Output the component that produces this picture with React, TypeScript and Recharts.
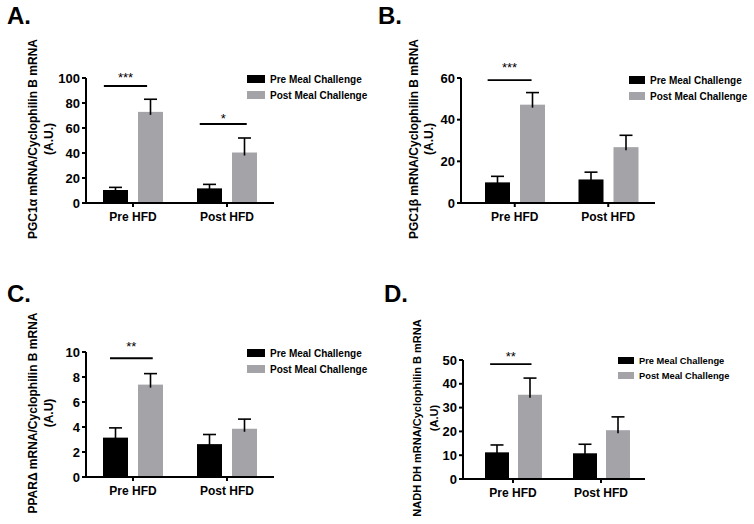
import React from 'react';
import { BarChart, Bar, XAxis, YAxis, Legend, ReferenceLine } from 'recharts';

const FONT = '"Liberation Sans", Arial, Helvetica, sans-serif';
const GRAY = '#a3a3a8';

const categories = ['Pre HFD', 'Post HFD'];
// position of each category on the hidden numeric axis used for significance bars
const categoryPos = [0.5, 1.5];
const seriesNames = ['Pre Meal Challenge', 'Post Meal Challenge'];

// A. PGC1α
const pgc1aPre = [10.4, 11.7];
const pgc1aPreErr = [2.1, 3.2];
const pgc1aPost = [72.9, 40.4];
const pgc1aPostErr = [10.1, 11.6];
const pgc1aTicks = [0, 20, 40, 60, 80, 100];
// significance bars: [from, to] in category units, height, stars
const pgc1aSig = [
  { from: 0.19, to: 0.65, y: 93.6, stars: '***' },
  { from: 1.21, to: 1.71, y: 63.2, stars: '*' },
];

// B. PGC1β
const pgc1bPre = [9.9, 11.3];
const pgc1bPreErr = [2.9, 3.5];
const pgc1bPost = [47.2, 26.8];
const pgc1bPostErr = [5.8, 5.7];
const pgc1bTicks = [0, 20, 40, 60];
const pgc1bSig = [{ from: 0.21, to: 0.68, y: 59, stars: '***' }];

// C. PPARΔ
const pparPre = [3.15, 2.63];
const pparPreErr = [0.78, 0.77];
const pparPost = [7.39, 3.86];
const pparPostErr = [0.88, 0.77];
const pparTicks = [0, 2, 4, 6, 8, 10];
const pparSig = [{ from: 0.255, to: 0.71, y: 9.5, stars: '**' }];

// D. NADH DH
const nadhPre = [11.2, 10.8];
const nadhPreErr = [3.1, 3.8];
const nadhPost = [35.4, 20.5];
const nadhPostErr = [7.0, 5.6];
const nadhTicks = [0, 10, 20, 30, 40, 50];
const nadhSig = [{ from: 0.24, to: 0.71, y: 48.3, stars: '**' }];

const buildRows = (pre: number[], preErr: number[], post: number[], postErr: number[]) =>
  categories.map((cat, i) => ({
    cat, pos: categoryPos[i], pre: pre[i], preErr: preErr[i], post: post[i], postErr: postErr[i],
  }));

const panels = [
  {
    letter: 'A.', left: 0, top: 0, titleX: 7, titleTop: 4,
    label: ['PGC1\u03b1 mRNA/Cyclophilin B mRNA', '(A.U.)'], labelX: [33, 49], labelSize: 12,
    data: buildRows(pgc1aPre, pgc1aPreErr, pgc1aPost, pgc1aPostErr), ticks: pgc1aTicks, sig: pgc1aSig,
    sigOffset: [4.5, 1],
    margin: { top: 78, right: 103, bottom: 29, left: 0 }, yWidth: 86, padLeft: 0, barSize: 25, barGap: 10,
    legend: { left: 247, top: 71, row: 16, boxW: 18, boxH: 8, font: 10 },
  },
  {
    letter: 'B.', left: 377, top: 0, titleX: 1, titleTop: 4,
    label: ['PGC1\u03b2 mRNA/Cyclophilin B mRNA', '(A.U.)'], labelX: [37, 52], labelSize: 12,
    data: buildRows(pgc1bPre, pgc1bPreErr, pgc1bPost, pgc1bPostErr), ticks: pgc1bTicks, sig: pgc1bSig,
    sigOffset: [8],
    margin: { top: 78, right: 99, bottom: 29, left: 0 }, yWidth: 84, padLeft: 7, barSize: 25, barGap: 10,
    legend: { left: 252, top: 72, row: 16, boxW: 16, boxH: 8, font: 10 },
  },
  {
    letter: 'C.', left: 0, top: 262, titleX: 7, titleTop: 20,
    label: ['PPAR\u0394 mRNA/Cyclophilin B mRNA', '(A.U)'], labelX: [33, 49], labelSize: 12,
    data: buildRows(pparPre, pparPreErr, pparPost, pparPostErr), ticks: pparTicks, sig: pparSig,
    sigOffset: [7],
    margin: { top: 90, right: 103, bottom: 17, left: 0 }, yWidth: 86, padLeft: 0, barSize: 25, barGap: 10,
    legend: { left: 247, top: 83, row: 16, boxW: 18, boxH: 8, font: 10 },
  },
  {
    letter: 'D.', left: 377, top: 262, titleX: 7, titleTop: 20,
    label: ['NADH DH mRNA/Cyclophilin B mRNA', '(A.U)'], labelX: [40, 57], labelSize: 11,
    data: buildRows(nadhPre, nadhPreErr, nadhPost, nadhPostErr), ticks: nadhTicks, sig: nadhSig,
    sigOffset: [3.5],
    margin: { top: 98, right: 109, bottom: 15, left: 0 }, yWidth: 86, padLeft: 6, barSize: 24, barGap: 9,
    legend: { left: 241, top: 91, row: 15, boxW: 16, boxH: 7, font: 9.3 },
  },
];

// bar with an upward-only error bar, scaled from the bar's own geometry
const errBarShape = (valKey: string, errKey: string) => (p: any) => {
  const v = p.payload[valKey];
  const e = p.payload[errKey];
  const pxPerUnit = v ? p.height / v : 0;
  const cx = p.x + p.width / 2;
  const top = p.y - e * pxPerUnit;
  return (
    <g>
      <rect x={p.x} y={p.y} width={p.width} height={p.height} fill={p.fill} />
      <line x1={cx} x2={cx} y1={p.y + 3} y2={top} stroke="#000" strokeWidth={1.6} />
      <line x1={cx - 6.5} x2={cx + 6.5} y1={top} y2={top} stroke="#000" strokeWidth={1.6} />
    </g>
  );
};

const axisStyle = { stroke: '#000', strokeWidth: 2 };

function Panel({ cfg }: { cfg: (typeof panels)[number] }) {
  const lg = cfg.legend;
  const yMax = cfg.ticks[cfg.ticks.length - 1];

  const renderLegend = (props: any) => {
    const items = [...(props.payload || [])].sort(
      (a: any, b: any) => seriesNames.indexOf(a.value) - seriesNames.indexOf(b.value),
    );
    return (
      <div style={{ fontFamily: FONT }}>
        {items.map((entry: any) => (
          <div key={entry.value} style={{ display: 'flex', alignItems: 'center', height: lg.row }}>
            <span style={{ display: 'inline-block', width: lg.boxW, height: lg.boxH, background: entry.color }} />
            <span style={{ marginLeft: 5, fontSize: lg.font, fontWeight: 'bold', color: '#000', whiteSpace: 'nowrap' }}>
              {entry.value}
            </span>
          </div>
        ))}
      </div>
    );
  };

  const renderYLabel = (props: any) => {
    const vb = props.viewBox || {};
    const cy = (vb.y ?? 0) + (vb.height ?? 0) / 2 - 1.5;
    return (
      <g>
        {cfg.label.map((line, i) => (
          <text
            key={i}
            x={cfg.labelX[i]}
            y={cy}
            transform={`rotate(-90, ${cfg.labelX[i]}, ${cy})`}
            textAnchor="middle"
            dominantBaseline="central"
            fontSize={cfg.labelSize}
            fontWeight="bold"
            fontFamily={FONT}
            fill="#000"
          >
            {line}
          </text>
        ))}
      </g>
    );
  };

  return (
    <div style={{ position: 'absolute', left: cfg.left, top: cfg.top, width: 377, height: 262 }}>
      <div
        style={{
          position: 'absolute', left: cfg.titleX, top: cfg.titleTop, fontSize: 24, lineHeight: '24px',
          fontWeight: 'bold', fontFamily: FONT, color: '#000', zIndex: 2,
        }}
      >
        {cfg.letter}
      </div>
      <BarChart
        width={377}
        height={262}
        data={cfg.data}
        margin={cfg.margin}
        barSize={cfg.barSize}
        barGap={cfg.barGap}
      >
        <XAxis
          dataKey="cat"
          interval={0}
          height={30}
          tickSize={4}
          tickMargin={5}
          padding={{ left: cfg.padLeft, right: 0 }}
          axisLine={axisStyle}
          tickLine={axisStyle}
          tick={{ fill: '#000', fontSize: 12, fontWeight: 'bold', fontFamily: FONT }}
        />
        <XAxis
          xAxisId="sig"
          dataKey="pos"
          type="number"
          domain={[0, 2]}
          allowDataOverflow
          hide
          padding={{ left: cfg.padLeft, right: 0 }}
        />
        <YAxis
          domain={[0, yMax]}
          ticks={cfg.ticks}
          interval={0}
          width={cfg.yWidth}
          tickSize={4}
          tickMargin={2}
          allowDataOverflow
          axisLine={axisStyle}
          tickLine={axisStyle}
          tick={{ fill: '#000', fontSize: 13, fontWeight: 'bold', fontFamily: FONT }}
          label={{ content: renderYLabel }}
        />
        <Legend
          layout="vertical"
          align="center"
          verticalAlign="middle"
          content={renderLegend}
          wrapperStyle={{ left: lg.left, top: lg.top, width: 'auto' }}
        />
        <Bar
          dataKey="pre"
          name={seriesNames[0]}
          fill="#000"
          shape={errBarShape('pre', 'preErr')}
          isAnimationActive={false}
        />
        <Bar
          dataKey="post"
          name={seriesNames[1]}
          fill={GRAY}
          shape={errBarShape('post', 'postErr')}
          isAnimationActive={false}
        />
        {cfg.sig.map((s, i) => (
          <ReferenceLine
            key={i}
            xAxisId="sig"
            segment={[{ x: s.from, y: s.y }, { x: s.to, y: s.y }]}
            stroke="#000"
            strokeWidth={1.8}
            ifOverflow="visible"
            label={{
              value: s.stars, position: 'top', offset: cfg.sigOffset[i],
              fill: '#000', fontSize: 13, fontFamily: FONT,
            }}
          />
        ))}
      </BarChart>
    </div>
  );
}

export default function App() {
  return (
    <div
      style={{
        position: 'absolute', left: 0, top: 0, width: 754, height: 524,
        background: '#fff', fontFamily: FONT, overflow: 'hidden',
      }}
    >
      {panels.map((p) => (
        <Panel key={p.letter} cfg={p} />
      ))}
    </div>
  );
}
